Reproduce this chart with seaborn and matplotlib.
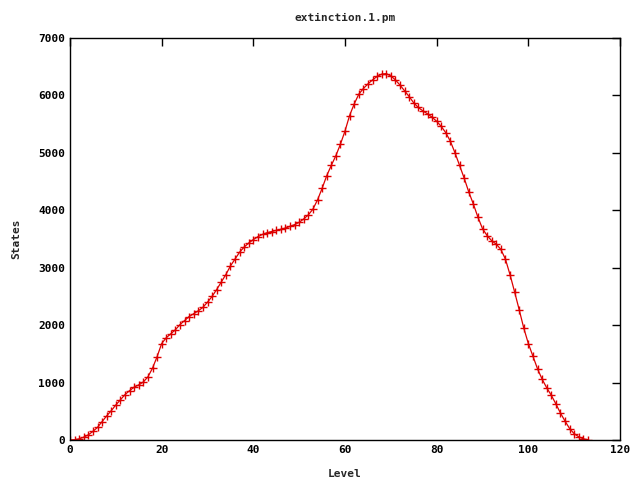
import numpy as np
import pandas as pd
import seaborn as sns
import matplotlib
matplotlib.use("Agg")
import matplotlib.pyplot as plt

levels = list(range(0, 114))
states = [
    0, 5, 20, 50, 90, 150, 220, 320, 420, 510,
    610, 700, 790, 860, 920, 960, 1010, 1100, 1250, 1450,
    1680, 1780, 1850, 1920, 2010, 2080, 2150, 2200, 2250, 2310,
    2400, 2500, 2620, 2750, 2880, 3030, 3150, 3270, 3360, 3430,
    3490, 3540, 3580, 3610, 3630, 3650, 3670, 3690, 3720, 3750,
    3790, 3850, 3920, 4020, 4180, 4380, 4600, 4780, 4950, 5150,
    5380, 5650, 5850, 6020, 6120, 6200, 6270, 6330, 6370, 6380,
    6340, 6270, 6180, 6080, 5980, 5870, 5790, 5730, 5680, 5620,
    5550, 5460, 5350, 5200, 5000, 4780, 4560, 4320, 4110, 3880,
    3680, 3560, 3470, 3410, 3320, 3150, 2880, 2580, 2270, 1950,
    1680, 1460, 1240, 1060, 910, 780, 630, 470, 330, 200,
    110, 55, 20, 5,
]
df = pd.DataFrame({"Level": levels, "States": states})

sns.set_style("white")
plt.rcParams["font.family"] = ["DejaVu Sans Mono"]
plt.rcParams["font.weight"] = "bold"
plt.rcParams["font.size"] = 8

fig = plt.figure(figsize=(6.4, 4.8), dpi=100)
ax = fig.add_axes([70 / 640, 40 / 480, 550 / 640, 402 / 480])

sns.lineplot(data=df, x="Level", y="States", ax=ax, color="#dd0000",
             linewidth=0.9, marker="+", markersize=5.5, markeredgewidth=1.0,
             markeredgecolor="#dd0000")

ax.set_xlim(0, 120)
ax.set_ylim(0, 7000)
ax.set_xticks(range(0, 121, 20))
ax.set_yticks(range(0, 7001, 1000))
ax.tick_params(direction="in", length=6, width=1, top=True, right=True,
               labelsize=8, colors="black")
for lab in ax.get_xticklabels() + ax.get_yticklabels():
    lab.set_fontweight("bold")
for s in ax.spines.values():
    s.set_color("black")
    s.set_linewidth(1)

ax.set_xlabel("Level", fontsize=8, fontweight="bold", labelpad=10)
ax.set_ylabel("States", fontsize=8, fontweight="bold", labelpad=12)
ax.set_title("extinction.1.pm", fontsize=8, fontweight="bold", pad=12)

fig.savefig("out.png", dpi=100)
